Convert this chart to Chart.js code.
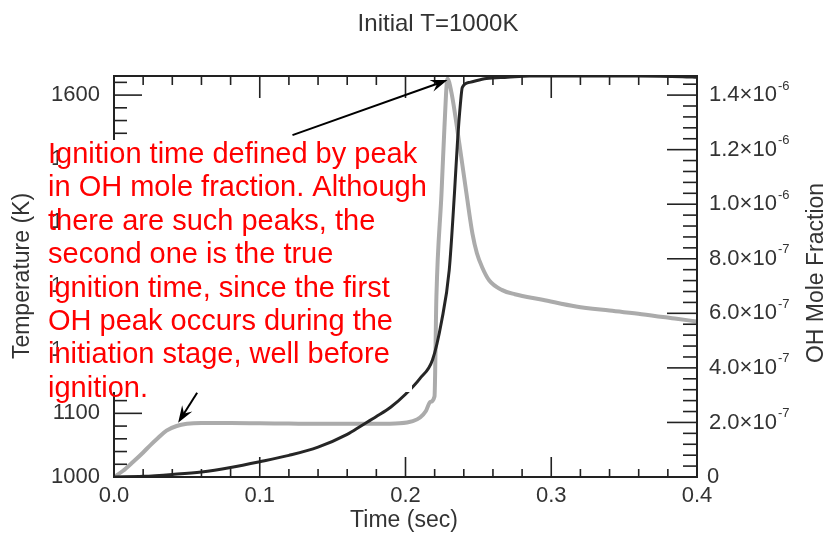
<!DOCTYPE html>
<html>
<head>
<meta charset="utf-8">
<script src="https://cdn.jsdelivr.net/npm/chart.js@4.4.0/dist/chart.umd.min.js"></script>
<style>
  html, body { margin: 0; padding: 0; background: #fff; }
  #wrap { width: 830px; height: 534px; }
</style>
</head>
<body>
<div id="wrap"><canvas id="ignicion" width="830" height="534"></canvas></div>
<script>
// Temperatura (K) frente al tiempo (s)
const timeS = [0, 0.02, 0.04, 0.06, 0.08, 0.1, 0.12, 0.14, 0.16, 0.17, 0.18, 0.19, 0.2, 0.21,
  0.2185, 0.2247, 0.23, 0.2336, 0.2356, 0.2377, 0.239, 0.244, 0.2555, 0.27, 0.285, 0.32, 0.36, 0.39, 0.4];
const tempK = [1000, 1001, 1004, 1008, 1015, 1024, 1034, 1047, 1067, 1081, 1095, 1110, 1130, 1155,
  1184, 1244, 1325, 1446, 1524, 1587, 1612, 1620, 1626, 1628, 1630, 1630, 1630, 1629, 1628];

// Fraccion molar de OH frente al tiempo (s)
const ohTime = [0, 0.006, 0.013, 0.02, 0.025, 0.03, 0.036, 0.043, 0.05, 0.06, 0.08, 0.1, 0.12, 0.14,
  0.16, 0.18, 0.196, 0.205, 0.21, 0.214, 0.217, 0.2199, 0.2212, 0.2247, 0.2267, 0.2288, 0.2315,
  0.237, 0.2418, 0.246, 0.249, 0.2525, 0.2575, 0.2664, 0.275, 0.294, 0.317, 0.34, 0.362, 0.386, 0.4];
const ohFrac = [0, 0.22e-7, 0.55e-7, 0.9e-7, 1.17e-7, 1.42e-7, 1.70e-7, 1.87e-7, 1.95e-7, 1.98e-7,
  1.98e-7, 1.97e-7, 1.96e-7, 1.95e-7, 1.95e-7, 1.95e-7, 1.97e-7, 2.05e-7, 2.18e-7, 2.42e-7, 2.75e-7,
  2.95e-7, 6.6e-7, 1.04e-6, 1.28e-6, 1.46e-6, 1.41e-6, 1.22e-6, 1.04e-6, 8.9e-7, 8.2e-7, 7.7e-7,
  7.2e-7, 6.85e-7, 6.7e-7, 6.5e-7, 6.25e-7, 6.1e-7, 5.97e-7, 5.8e-7, 5.7e-7];

// Marcas de los ejes
const timeTicks = [0, 0.1, 0.2, 0.3, 0.4];
const timeLabels = ['0.0', '0.1', '0.2', '0.3', '0.4'];
const tempTicks = [1000, 1100, 1200, 1300, 1400, 1500, 1600];
const ohTicks = [0, 2e-7, 4e-7, 6e-7, 8e-7, 1.0e-6, 1.2e-6, 1.4e-6];
const ohMant = ['0', '2.0', '4.0', '6.0', '8.0', '1.0', '1.2', '1.4'];
const ohExp = ['', '-7', '-7', '-7', '-7', '-6', '-6', '-6'];

const noteLines = [
  'Ignition time defined by peak',
  'in OH mole fraction. Although',
  'there are such peaks, the',
  'second one is the true',
  'ignition time, since the first',
  'OH peak occurs during the',
  'initiation stage, well before',
  'ignition.'
];

const FONT = '"Liberation Sans", Arial, Helvetica, sans-serif';

// Marco, marcas hacia dentro, etiquetas, nota y flechas
const marco = {
  id: 'marco',
  afterDatasetsDraw(chart) {
    const { ctx, chartArea: a, scales } = chart;
    const sx = scales.x, sy = scales.y, so = scales.y2;
    const line = (x1, y1, x2, y2) => { ctx.beginPath(); ctx.moveTo(x1, y1); ctx.lineTo(x2, y2); ctx.stroke(); };
    ctx.save();
    ctx.strokeStyle = '#222';
    ctx.lineWidth = 2;
    ctx.strokeRect(a.left, a.top, a.right - a.left, a.bottom - a.top);

    ctx.lineWidth = 1.6;
    for (let i = 0; i <= 20; i++) {
      const px = sx.getPixelForValue(i * 0.02);
      const major = i % 5 === 0;
      line(px, a.bottom, px, a.bottom - (major ? 20 : 8));
      line(px, a.top, px, a.top + (major ? 22 : 9));
    }
    for (let i = 0; i <= 31; i++) {
      const py = sy.getPixelForValue(1000 + i * 20);
      line(a.left, py, a.left + (i % 5 === 0 ? 28 : 13), py);
    }
    for (let i = 0; i <= 36; i++) {
      const py = so.getPixelForValue(i * 4e-8);
      line(a.right, py, a.right - (i % 5 === 0 ? 30 : 14), py);
    }

    ctx.fillStyle = '#333';
    ctx.font = '22px ' + FONT;
    ctx.textBaseline = 'middle';
    ctx.textAlign = 'right';
    tempTicks.forEach(v => ctx.fillText(String(v), 100, sy.getPixelForValue(v)));
    ctx.textAlign = 'center';
    timeTicks.forEach((v, i) => ctx.fillText(timeLabels[i], sx.getPixelForValue(v), 496));

    ctx.textAlign = 'left';
    ohTicks.forEach((v, i) => {
      const py = so.getPixelForValue(v);
      ctx.font = '22px ' + FONT;
      if (!ohExp[i]) { ctx.fillText(ohMant[i], 707, py); return; }
      const base = ohMant[i] + '\u00d710';
      ctx.fillText(base, 709, py);
      const w = ctx.measureText(base).width;
      ctx.font = '13px ' + FONT;
      ctx.fillText(ohExp[i], 709 + w + 1, py - 9);
    });

    // Titulos
    ctx.textAlign = 'center';
    ctx.font = '24px ' + FONT;
    ctx.fillText('Initial T=1000K', 438, 24);
    ctx.font = '23px ' + FONT;
    ctx.fillText('Time (sec)', 404, 521);
    ctx.save();
    ctx.translate(23, 276);
    ctx.rotate(-Math.PI / 2);
    ctx.fillText('Temperature (K)', 0, 0);
    ctx.restore();
    ctx.save();
    ctx.translate(817, 273);
    ctx.rotate(-Math.PI / 2);
    ctx.fillText('OH Mole Fraction', 0, 0);
    ctx.restore();

    // Nota en rojo sobre fondo blanco
    ctx.fillStyle = '#fff';
    ctx.fillRect(58, 140, 354, 252);
    ctx.fillStyle = '#ff0000';
    ctx.font = '29px ' + FONT;
    ctx.textAlign = 'left';
    ctx.textBaseline = 'alphabetic';
    noteLines.forEach((t, i) => ctx.fillText(t, 48, 163 + i * 33.4));

    // Flechas hacia los dos picos de OH
    const arrow = (tx, ty, fx, fy) => {
      const ang = Math.atan2(ty - fy, tx - fx), c = Math.cos(ang), s = Math.sin(ang);
      ctx.lineWidth = 2;
      line(fx, fy, tx - 8 * c, ty - 8 * s);
      ctx.beginPath();
      ctx.moveTo(tx, ty);
      ctx.lineTo(tx - 17 * c + 6 * s, ty - 17 * s - 6 * c);
      ctx.lineTo(tx - 11 * c, ty - 11 * s);
      ctx.lineTo(tx - 17 * c - 6 * s, ty - 17 * s + 6 * c);
      ctx.closePath();
      ctx.fill();
    };
    ctx.strokeStyle = '#000';
    ctx.fillStyle = '#000';
    const t1x = sx.getPixelForValue(0.2288), t1y = so.getPixelForValue(1.455e-6);
    arrow(t1x, t1y, t1x - 155, t1y + 55);
    const t2x = sx.getPixelForValue(0.044), t2y = so.getPixelForValue(1.88e-7) - 3;
    arrow(t2x, t2y, t2x + 19, t2y - 30);
    ctx.restore();
  }
};

const ctx = document.getElementById('ignicion').getContext('2d');
const ignicionChart = new Chart(ctx, {
  type: 'line',
  data: {
    datasets: [{
      label: 'Temperature (K)',
      data: timeS.map((t, i) => ({ x: t, y: tempK[i] })),
      yAxisID: 'y',
      borderColor: '#262626',
      borderWidth: 3,
      pointRadius: 0,
      cubicInterpolationMode: 'monotone'
    }, {
      label: 'OH Mole Fraction',
      data: ohTime.map((t, i) => ({ x: t, y: ohFrac[i] })),
      yAxisID: 'y2',
      borderColor: '#ababab',
      borderWidth: 4,
      pointRadius: 0,
      cubicInterpolationMode: 'monotone'
    }]
  },
  options: {
    responsive: false,
    animation: false,
    events: [],
    layout: { padding: { left: 114, right: 133, top: 76, bottom: 57 } },
    plugins: { legend: { display: false }, tooltip: { enabled: false } },
    scales: {
      x: { type: 'linear', min: 0, max: 0.4, display: false },
      y: { type: 'linear', min: 1000, max: 1630, display: false },
      y2: { type: 'linear', position: 'right', min: 0, max: 1.47e-6, display: false }
    }
  },
  plugins: [marco]
});
</script>
</body>
</html>
